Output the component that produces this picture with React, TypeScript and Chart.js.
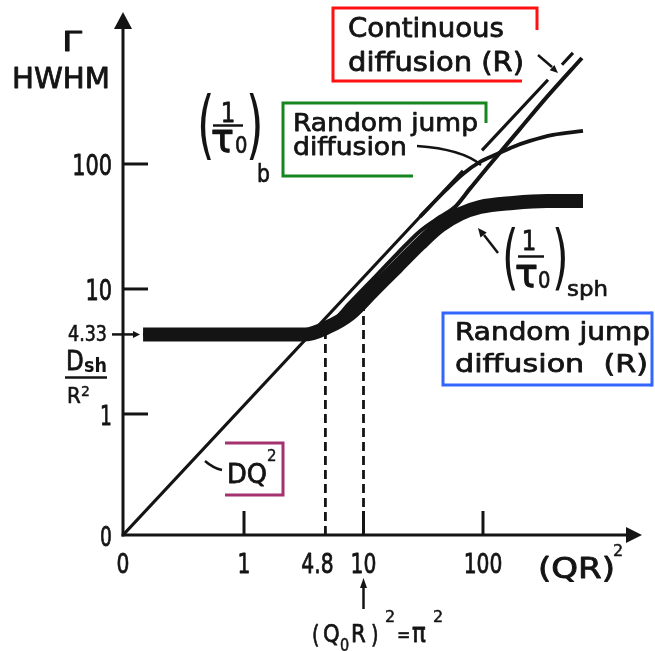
import React, { useEffect, useRef } from "react";
import { Chart, registerables } from "chart.js";
Chart.register(...registerables);

// ---------- data (log-log schematic) ----------
const xAxisMin = 0.0971; // labelled "0"
const xAxisMax = 2142;
const yAxisMin = 0.1076; // labelled "0"
const yAxisMax = 1644;

const xTickValues = [xAxisMin, 1, 4.8, 10, 100];
const xTickLabels = ["0", "1", "4.8", "10", "100"];
const xTickMarkValues = [1, 10, 100];
const yTickValues = [yAxisMin, 1, 10, 100];
const yTickLabels = ["0", "1", "10", "100"];
const yTickMarkValues = [1, 10, 100];

const plateauValue = 4.33;
const kneeX = 4.8;
const q0RSquared = 10;
const dashTopAtKnee = 4.33;
const dashTopAtQ0 = 7.3;

// Random jump diffusion (R): thick curve, saturating at (1/tau0)_sph
const sphX = [0.143, 3.24, 5.05, 7.71, 12.0, 19.1, 29.7, 43.7, 64.2, 94.4, 178, 343, 687];
const sphY = [4.33, 4.33, 4.97, 6.31, 9.64, 15.0, 22.9, 31.9, 39.8, 45.3, 48.8, 50.6, 50.6];

// Continuous diffusion (R)
const contRX = [0.143, 3.24, 5.24, 7.71, 12.0, 19.1, 29.7, 43.7, 58.3, 77.8, 108, 204, 343, 673];
const contRY = [4.33, 4.33, 5.25, 7.73, 12.0, 19.1, 29.0, 37.7, 45.3, 63.5, 92.9, 191, 344, 705];

// DQ^2 (bulk continuous diffusion), drawn with two small breaks
const dq2X = [xAxisMin, 68.0, 80, 98.1, 350, 400, 458, 566];
const dq2Y = [yAxisMin, 88.3, null, 128.5, 472, null, 622, 773];

// Random jump diffusion (bulk), saturating at (1/tau0)_b
const bulkX = [29.7, 48.1, 68.0, 94.4, 131, 178, 247, 385, 687];
const bulkY = [37.8, 60.8, 83.2, 104, 120, 137, 153, 171, 184];

// ---------- styles ----------
const INK = "#141414";
const FONT = '"DejaVu Sans", "Liberation Sans", sans-serif';

const pts = (xs: number[], ys: (number | null)[]) => xs.map((x, i) => ({ x, y: ys[i] }));

type TxtOpts = {
  w?: number;
  sx?: number;
  align?: "left" | "center" | "right";
  weight?: string;
  color?: string;
  stroke?: number;
};

function txt(ctx: CanvasRenderingContext2D, s: string, x: number, y: number, size: number, o: TxtOpts = {}) {
  ctx.save();
  ctx.font = `${o.weight || "normal"} ${size}px ${FONT}`;
  ctx.textBaseline = "alphabetic";
  ctx.textAlign = "left";
  const m = ctx.measureText(s).width;
  const sx = o.w ? o.w / m : o.sx || 1;
  const w = m * sx;
  let left = x;
  if (o.align === "center") left = x - w / 2;
  else if (o.align === "right") left = x - w;
  ctx.translate(left, y);
  ctx.scale(sx, 1);
  ctx.fillStyle = o.color || INK;
  ctx.fillText(s, 0, 0);
  const sw = o.stroke === undefined ? size * 0.03 : o.stroke;
  if (sw > 0) {
    ctx.strokeStyle = o.color || INK;
    ctx.lineWidth = sw;
    ctx.lineJoin = "round";
    ctx.strokeText(s, 0, 0);
  }
  ctx.restore();
}

function poly(ctx: CanvasRenderingContext2D, p: number[][], color: string, lw: number) {
  ctx.save();
  ctx.strokeStyle = color;
  ctx.lineWidth = lw;
  ctx.lineCap = "butt";
  ctx.lineJoin = "miter";
  ctx.beginPath();
  p.forEach(([a, b], i) => (i ? ctx.lineTo(a, b) : ctx.moveTo(a, b)));
  ctx.stroke();
  ctx.restore();
}

function head(ctx: CanvasRenderingContext2D, fx: number, fy: number, tx: number, ty: number, len: number, half: number) {
  const ang = Math.atan2(ty - fy, tx - fx);
  ctx.save();
  ctx.fillStyle = INK;
  ctx.translate(tx, ty);
  ctx.rotate(ang);
  ctx.beginPath();
  ctx.moveTo(0, 0);
  ctx.lineTo(-len, -half);
  ctx.lineTo(-len, half);
  ctx.closePath();
  ctx.fill();
  ctx.restore();
}

const xLabelDx = [0, 0, -8, 0, 0];
const yLabelSize = [26, 26, 29, 29];

const sketchPlugin = {
  id: "sketch",
  beforeDatasetsDraw(chart: any) {
    const ctx: CanvasRenderingContext2D = chart.ctx;
    const xs = chart.scales.x;
    const ys = chart.scales.y;
    const { left, right, top, bottom } = chart.chartArea;
    // axes
    poly(ctx, [[left, bottom + 1.5], [left, top + 14]], INK, 3);
    head(ctx, left, top + 40, left, top, 17, 9);
    poly(ctx, [[left - 1.5, bottom], [right - 14, bottom]], INK, 3);
    head(ctx, right - 40, bottom, right, bottom, 16, 8);
    // tick marks
    xTickMarkValues.forEach((v) => {
      const px = xs.getPixelForValue(v);
      poly(ctx, [[px, bottom], [px, bottom - 24]], INK, 3);
    });
    yTickMarkValues.forEach((v) => {
      const py = ys.getPixelForValue(v);
      poly(ctx, [[left, py], [left + 25, py]], INK, 3);
    });
    // 4.33 marker
    const pp = ys.getPixelForValue(plateauValue);
    poly(ctx, [[left - 11, pp], [left + 12, pp]], INK, 2.5);
    head(ctx, left, pp, left + 17, pp, 7, 3.5);
  },
  afterDatasetsDraw(chart: any) {
    const ctx: CanvasRenderingContext2D = chart.ctx;
    const xs = chart.scales.x;
    const ys = chart.scales.y;
    const { left, bottom } = chart.chartArea;

    // axis labels
    xTickValues.forEach((v, i) => {
      txt(ctx, xTickLabels[i], xs.getPixelForValue(v) + xLabelDx[i], bottom + 38, 26, { sx: 0.78, align: "center" });
    });
    yTickValues.forEach((v, i) => {
      txt(ctx, yTickLabels[i], left - 11, ys.getPixelForValue(v) + 11, yLabelSize[i], { sx: 0.72, align: "right" });
    });
    const pp = ys.getPixelForValue(plateauValue);
    txt(ctx, "4.33", left - 16, pp + 7, 21, { w: 39, align: "right" });

    // Gamma / HWHM
    txt(ctx, "Γ", 62, 51, 26, { w: 20 });
    txt(ctx, "HWHM", 12, 88, 29, { w: 98 });

    // D_sh / R^2
    txt(ctx, "D", 66, 370, 27, { sx: 0.85 });
    txt(ctx, "sh", 84, 372, 19, { w: 23, weight: "bold", stroke: 0 });
    poly(ctx, [[65, 377.5], [107, 377.5]], INK, 2.5);
    txt(ctx, "R", 67, 403, 22, { sx: 0.9 });
    txt(ctx, "2", 81, 396, 14);

    // (QR)^2
    txt(ctx, "(QR)", 538, 578, 28, { w: 77 });
    txt(ctx, "2", 613, 556, 16);

    // (Q0R)^2 = pi^2 with arrow to 10
    const p10 = xs.getPixelForValue(q0RSquared);
    poly(ctx, [[p10, 609], [p10, 586]], INK, 2.5);
    head(ctx, p10, 600, p10, 578, 10, 3.5);
    txt(ctx, "(", 312, 643, 24, { sx: 0.8 });
    txt(ctx, "Q", 323, 642, 25, { sx: 0.85 });
    txt(ctx, "0", 340, 651, 17, { sx: 0.85 });
    txt(ctx, "R", 351, 642, 25, { sx: 0.85 });
    txt(ctx, ")", 371, 643, 24, { sx: 0.8 });
    txt(ctx, "2", 385, 622, 16);
    txt(ctx, "=", 397, 641, 20, { sx: 0.8 });
    txt(ctx, "π", 412, 642, 27, { sx: 0.85 });
    txt(ctx, "2", 433, 622, 16);

    // DQ^2 label
    txt(ctx, "DQ", 227, 483, 26, { w: 40 });
    txt(ctx, "2", 267, 461, 15);
    ctx.save();
    ctx.strokeStyle = INK;
    ctx.lineWidth = 2.5;
    ctx.beginPath();
    ctx.moveTo(205, 461);
    ctx.quadraticCurveTo(213, 468, 222, 470);
    ctx.stroke();
    ctx.restore();
    poly(ctx, [[225, 443], [283, 443], [283, 495], [225, 495]], "#a3326f", 3);

    // (1/tau0)_b
    txt(ctx, "(", 197, 150, 75, { sx: 0.6, stroke: 0 });
    txt(ctx, "1", 228, 122, 27, { align: "center", sx: 0.85 });
    poly(ctx, [[213, 125.5], [243, 125.5]], INK, 2.5);
    txt(ctx, "τ", 211, 152, 40, { sx: 0.95 });
    txt(ctx, "0", 235, 153, 23, { sx: 0.85 });
    txt(ctx, ")", 246, 150, 75, { sx: 0.6, stroke: 0 });
    txt(ctx, "b", 257, 182, 24, { sx: 0.85 });

    // (1/tau0)_sph
    txt(ctx, "(", 502, 281, 71, { sx: 0.6, stroke: 0 });
    txt(ctx, "1", 529, 250, 27, { align: "center", sx: 0.85 });
    poly(ctx, [[518, 256.5], [544, 256.5]], INK, 2.5);
    txt(ctx, "τ", 515, 287, 40, { sx: 0.95 });
    txt(ctx, "0", 538, 288, 23, { sx: 0.85 });
    txt(ctx, ")", 552, 281, 71, { sx: 0.6, stroke: 0 });
    txt(ctx, "sph", 567, 296, 22, { w: 41 });
    poly(ctx, [[498, 253], [484, 235]], INK, 2.5);
    head(ctx, 498, 253, 478, 228, 9, 4);

    // Continuous diffusion (R)
    poly(ctx, [[537, 30], [537, 8], [333, 8], [333, 81], [522, 81]], "#ff1111", 3);
    txt(ctx, "Continuous", 348, 37, 26, { w: 156 });
    txt(ctx, "diffusion (R)", 348, 71, 26, { w: 176 });
    poly(ctx, [[538, 55], [552, 67]], INK, 2.5);
    head(ctx, 538, 55, 558, 73, 8, 3.5);

    // Random jump diffusion (bulk)
    poly(ctx, [[486, 123], [486, 103], [283, 103], [283, 176], [413, 176]], "#16861f", 3);
    txt(ctx, "Random jump", 293, 131, 25, { w: 185 });
    txt(ctx, "diffusion", 293, 155, 25, { w: 114 });
    ctx.save();
    ctx.strokeStyle = INK;
    ctx.lineWidth = 2.5;
    ctx.beginPath();
    ctx.moveTo(417, 146);
    ctx.quadraticCurveTo(462, 149, 481, 165);
    ctx.stroke();
    ctx.restore();

    // Random jump diffusion (R)
    poly(ctx, [[652, 313], [443, 313], [443, 385], [652, 385]], "#3366ff", 3);
    poly(ctx, [[652, 311.5], [652, 386.5]], "#3366ff", 3);
    txt(ctx, "Random jump", 455, 340, 25, { w: 195 });
    txt(ctx, "diffusion  (R)", 455, 372, 25, { w: 193 });
  },
};

export default function App() {
  const ref = useRef<HTMLCanvasElement>(null);
  useEffect(() => {
    const canvas = ref.current;
    if (!canvas) return;
    const chart = new Chart(canvas, {
      type: "line",
      data: {
        datasets: [
          {
            label: "Random jump diffusion (R)",
            data: pts(sphX, sphY),
            borderColor: INK,
            borderWidth: 14,
            borderCapStyle: "butt",
            borderJoinStyle: "round",
            cubicInterpolationMode: "monotone",
            pointRadius: 0,
            order: 1,
          },
          {
            label: "Continuous diffusion (R)",
            data: pts(contRX, contRY),
            borderColor: INK,
            borderWidth: 4,
            cubicInterpolationMode: "monotone",
            pointRadius: 0,
            order: 2,
          },
          {
            label: "DQ²",
            data: pts(dq2X, dq2Y),
            borderColor: INK,
            borderWidth: 3.2,
            tension: 0,
            spanGaps: false,
            pointRadius: 0,
            order: 3,
          },
          {
            label: "Random jump diffusion",
            data: pts(bulkX, bulkY),
            borderColor: INK,
            borderWidth: 3.8,
            cubicInterpolationMode: "monotone",
            pointRadius: 0,
            order: 4,
          },
          {
            label: "4.8",
            data: [
              { x: kneeX, y: yAxisMin },
              { x: kneeX, y: dashTopAtKnee },
            ],
            borderColor: INK,
            borderWidth: 2.8,
            borderDash: [9, 5],
            pointRadius: 0,
            order: 5,
          },
          {
            label: "10",
            data: [
              { x: q0RSquared, y: yAxisMin },
              { x: q0RSquared, y: dashTopAtQ0 },
            ],
            borderColor: INK,
            borderWidth: 2.8,
            borderDash: [9, 5],
            pointRadius: 0,
            order: 6,
          },
        ],
      },
      options: {
        animation: false,
        responsive: false,
        maintainAspectRatio: false,
        layout: { padding: { left: 123, top: 12, right: 13, bottom: 116 } },
        scales: {
          x: { type: "logarithmic", min: xAxisMin, max: xAxisMax, display: false },
          y: { type: "logarithmic", min: yAxisMin, max: yAxisMax, display: false },
        },
        plugins: { legend: { display: false }, tooltip: { enabled: false }, title: { display: false } },
        elements: { point: { radius: 0 } },
      },
      plugins: [sketchPlugin],
    } as any);
    return () => chart.destroy();
  }, []);
  return (
    <div style={{ position: "fixed", left: 0, top: 0, width: 655, height: 651, background: "#fff" }}>
      <canvas ref={ref} width={655} height={651} style={{ display: "block", width: 655, height: 651 }} />
    </div>
  );
}
